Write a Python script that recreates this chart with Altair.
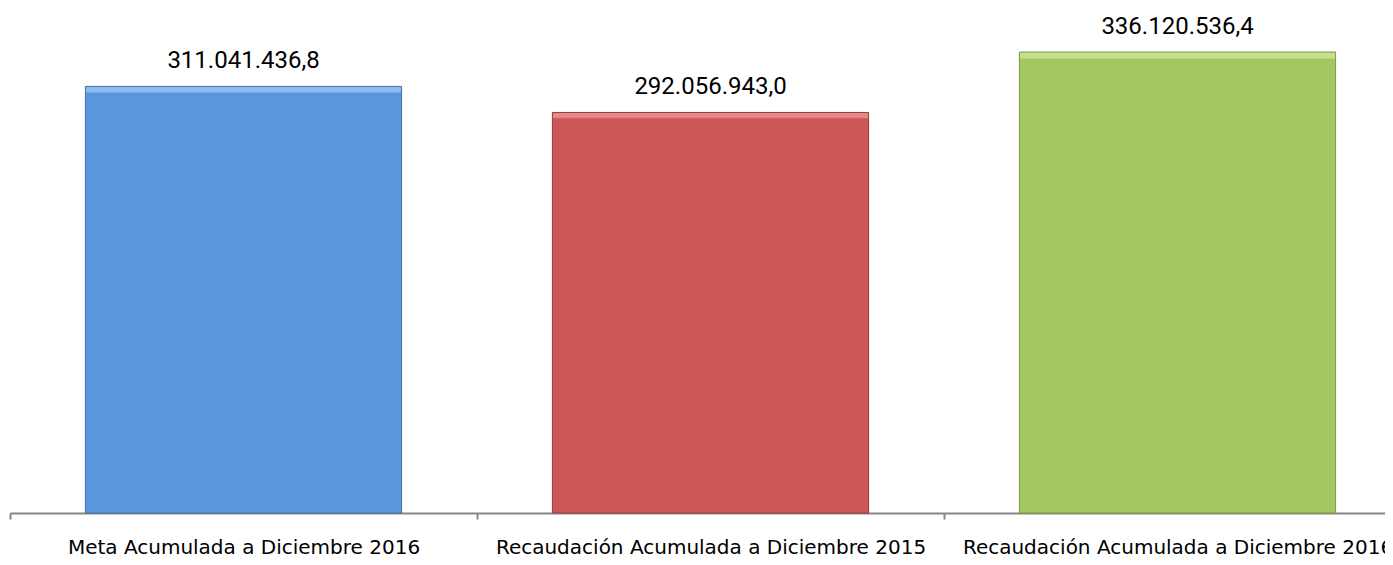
import altair as alt
import pandas as pd

categories = [
    "Meta Acumulada a Diciembre 2016",
    "Recaudación Acumulada a Diciembre 2015",
    "Recaudación Acumulada a Diciembre 2016",
]
values = [311041436.8, 292056943.0, 336120536.4]
value_labels = ["311.041.436,8", "292.056.943,0", "336.120.536,4"]
base_colors = ["#5A96DC", "#CD5756", "#A3C763"]
light_colors = ["#8DBBF0", "#E48A89", "#C6DF8E"]
edge_colors = ["#3E6EA6", "#963A39", "#7A9A44"]

df = pd.DataFrame({"cat": categories, "val": values, "lbl": value_labels})

x_enc = alt.X(
    "cat:N",
    sort=categories,
    scale=alt.Scale(domain=categories, range=[0, 1401], paddingInner=0, paddingOuter=0),
    axis=alt.Axis(
        title=None,
        labelAngle=0,
        tickBand="extent",
        domainColor="#868686",
        domainWidth=2,
        tickColor="#868686",
        tickWidth=2,
        tickSize=6,
        labelFont="DejaVu Sans",
        labelFontSize=20,
        labelColor="#000000",
        labelPadding=18,
        labelLimit=800,
        labelOverlap=False,
    ),
)
y_enc = alt.Y("val:Q", scale=alt.Scale(domain=[0, 350000000]), axis=None)

base = alt.Chart(df)
layers = []
for i, cat in enumerate(categories):
    grad = alt.Gradient(
        gradient="linear",
        x1=0, x2=0, y1=0, y2=1,
        stops=[
            alt.GradientStop(offset=0, color=light_colors[i]),
            alt.GradientStop(offset=0.012, color=light_colors[i]),
            alt.GradientStop(offset=0.016, color=base_colors[i]),
            alt.GradientStop(offset=1, color=base_colors[i]),
        ],
    )
    layers.append(
        base.transform_filter(alt.datum.cat == cat)
        .mark_bar(
            fill=grad,
            stroke=edge_colors[i],
            strokeWidth=1,
            width=alt.RelativeBandSize(0.677),
        )
        .encode(x=x_enc, y=y_enc)
    )

text = base.mark_text(
    font="Roboto", fontSize=24, baseline="alphabetic", dy=-18, color="#000000"
).encode(x=x_enc, y=y_enc, text="lbl:N")

chart = (
    alt.layer(*layers, text)
    .properties(
        width=1375,
        height=480,
        background="#ffffff",
        padding={"left": 2, "top": 25, "right": 0, "bottom": 47},
        autosize=alt.AutoSizeParams(type="none"),
    )
    .configure_view(stroke=None)
)

chart.save("out.html", embed_options={"renderer": "svg", "actions": False})
